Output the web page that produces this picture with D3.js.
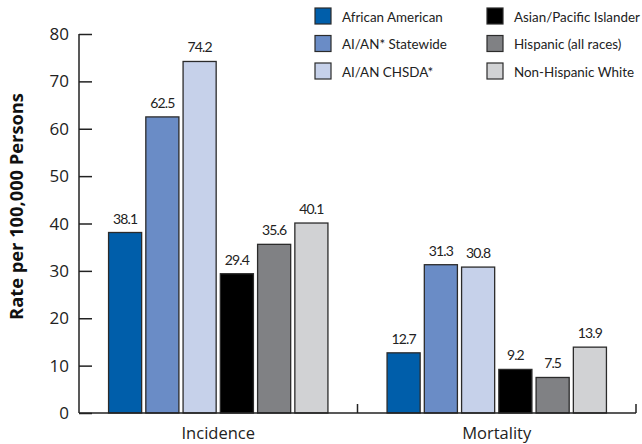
<!DOCTYPE html>
<html><head><meta charset="utf-8">
<script src="https://cdn.jsdelivr.net/npm/d3@7"></script>
<style>
html,body{margin:0;padding:0;background:#fff;}
svg{display:block;font-family:"Open Sans","Noto Sans",sans-serif;}
</style></head>
<body><svg id="c" width="642" height="444"></svg>
<script>
const categories = ["Incidence", "Mortality"];
const seriesNames = ["African American", "AI/AN* Statewide", "AI/AN CHSDA*", "Asian/Pacific Islander", "Hispanic (all races)", "Non-Hispanic White"];
const seriesColors = ["#005eaa", "#6a8cc6", "#c6d1ea", "#000000", "#808184", "#d1d2d4"];
const incidenceValues = [38.1, 62.5, 74.2, 29.4, 35.6, 40.1];
const mortalityValues = [12.7, 31.3, 30.8, 9.2, 7.5, 13.9];
const yTicks = [0, 10, 20, 30, 40, 50, 60, 70, 80];
const yTitle = "Rate per 100,000 Persons";

(function () {
const valuesByCat = {Incidence: incidenceValues, Mortality: mortalityValues};
const svg = d3.select("#c");
const mLeft = 79, mRight = 636, mTop = 34, mBottom = 413;
const narrow = "Lato, 'Open Sans', sans-serif";

const y = d3.scaleLinear().domain([0, 80]).range([mBottom, mTop]);
const x0 = d3.scaleBand().domain(categories).range([mLeft, mRight]).paddingInner(0).paddingOuter(0);
const x1 = d3.scaleBand().domain(seriesNames).range([0, x0.bandwidth()]).paddingInner(0.085).paddingOuter(0.78);

// bars
const groups = svg.append("g").selectAll("g").data(categories).join("g")
  .attr("transform", c => `translate(${x0(c)},0)`);
groups.selectAll("rect").data(c => seriesNames.map((s, i) => ({s, i, v: valuesByCat[c][i]})))
  .join("rect")
  .attr("x", d => x1(d.s) + 0.5)
  .attr("y", d => y(d.v))
  .attr("width", x1.bandwidth() - 1)
  .attr("height", d => mBottom - y(d.v))
  .attr("fill", d => seriesColors[d.i])
  .attr("stroke", "#2b2b2b")
  .attr("stroke-width", 1.3);
groups.selectAll("text").data(c => seriesNames.map((s, i) => ({s, i, v: valuesByCat[c][i]})))
  .join("text")
  .attr("x", d => x1(d.s) + x1.bandwidth() / 2)
  .attr("y", d => y(d.v) - 9)
  .attr("text-anchor", "middle")
  .attr("font-family", narrow)
  .attr("font-size", 14)
  .attr("letter-spacing", -0.9)
  .attr("fill", "#222")
  .text(d => d.v.toFixed(1));

// y axis
const yAxis = d3.axisRight(y).tickValues(yTicks).tickSize(13).tickFormat("");
const ya = svg.append("g").attr("transform", `translate(${mLeft},0)`).call(yAxis);
ya.select(".domain").attr("stroke", "#222").attr("stroke-width", 1.5).attr("d", `M0,${mTop}V${mBottom}`);
ya.selectAll(".tick line").attr("stroke", "#222").attr("stroke-width", 1.5);
svg.append("g").selectAll("text").data(yTicks).join("text")
  .attr("x", 69).attr("y", d => y(d) + 6)
  .attr("text-anchor", "end").attr("font-size", 17).attr("fill", "#222")
  .text(d => d);

// x axis
svg.append("line").attr("x1", mLeft).attr("x2", mRight).attr("y1", mBottom).attr("y2", mBottom)
  .attr("stroke", "#222").attr("stroke-width", 1.5);
const seps = [x0("Mortality"), mRight];
svg.append("g").selectAll("line").data(seps).join("line")
  .attr("x1", d => d).attr("x2", d => d).attr("y1", mBottom).attr("y2", mBottom - 9)
  .attr("stroke", "#222").attr("stroke-width", 1.5);
svg.append("g").selectAll("text").data(categories).join("text")
  .attr("x", c => x0(c) + x0.bandwidth() / 2).attr("y", 439)
  .attr("text-anchor", "middle").attr("font-size", 16.5).attr("fill", "#222")
  .text(c => c);

// y title
svg.append("text").attr("transform", `translate(23,${(93 + 320) / 2}) rotate(-90)`)
  .attr("text-anchor", "middle").attr("font-size", 18.3).attr("font-weight", "bold").attr("fill", "#111")
  .text(yTitle);

// legend
const leg = svg.append("g").selectAll("g").data(seriesNames).join("g")
  .attr("transform", (d, i) => `translate(${i < 3 ? 315 : 487},${8 + (i % 3) * 27.5})`);
leg.append("rect").attr("width", 16).attr("height", 16)
  .attr("fill", (d, i) => seriesColors[i]).attr("stroke", "#2b2b2b").attr("stroke-width", 1.2);
leg.append("text").attr("x", 27).attr("y", 13.5).attr("font-family", narrow).attr("font-size", 13.4).attr("fill", "#222").text(d => d);
})();
</script></body></html>
